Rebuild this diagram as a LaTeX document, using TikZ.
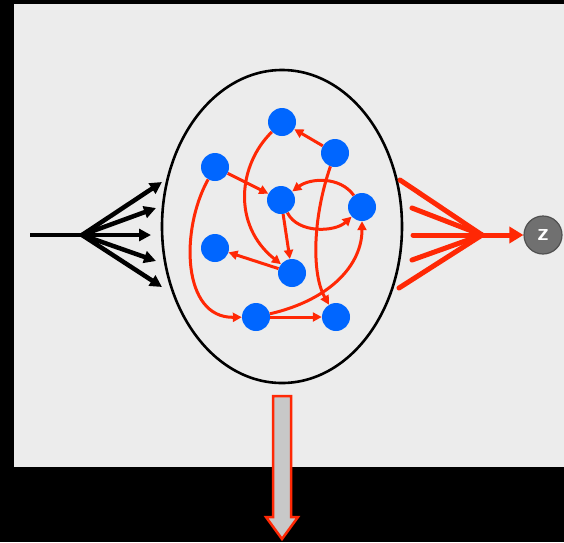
\documentclass[tikz,border=0pt]{standalone}
\usetikzlibrary{arrows.meta}
\definecolor{panel}{RGB}{236,236,236}
\definecolor{netred}{RGB}{255,40,5}
\definecolor{netblue}{RGB}{0,102,255}
\definecolor{zgray}{RGB}{112,112,112}
\definecolor{zedge}{RGB}{80,80,80}
\definecolor{shaftgray}{RGB}{200,200,200}
\tikzset{
  unit/.style={circle, fill=netblue, minimum size=28pt, inner sep=0pt},
  link/.style={draw=netred, line width=3pt, -{Triangle[length=9pt,width=9pt]}},
  fanin/.style={draw=black, line width=4.5pt, -{Triangle[length=12pt,width=12pt]}},
  fanout/.style={draw=netred, line width=5pt},
  zball/.style={circle, fill=zgray, draw=zedge, line width=1.2pt, minimum size=38pt, inner sep=0pt, text=white, font=\sffamily\bfseries\fontsize{24}{24}\selectfont}
}
\begin{document}
\begin{tikzpicture}[x=1pt,y=-1pt]
\useasboundingbox (0,0) rectangle (564,542);
\fill[black] (0,0) rectangle (564,542);
\fill[panel] (14,4) rectangle (570,467);

% container
\draw[line width=2.6pt] (282,226.5) ellipse [x radius=120, y radius=156.5];

% units
\node[unit] (A) at (282,122) {};
\node[unit] (B) at (335,153) {};
\node[unit] (C) at (215,167) {};
\node[unit] (D) at (281,200) {};
\node[unit] (E) at (362,207) {};
\node[unit] (F) at (215,248) {};
\node[unit] (G) at (292,273) {};
\node[unit] (H) at (256,317) {};
\node[unit] (I) at (336,317) {};

% internal links
\draw[link] (B) -- (A);
\draw[link] (C) -- (D);
\draw[link] (E) .. controls (340,176) and (310,178) .. (D);
\draw[link] (D) .. controls (298,234) and (335,232) .. (E);
\draw[link] (D) -- (G);
\draw[link] (G) -- (F);
\draw[link] (A) .. controls (238,165) and (232,225) .. (G);
\draw[link] (C) .. controls (180,230) and (182,318) .. (H);
\draw[link] (B) .. controls (312,220) and (312,275) .. (I);
\draw[link] (H) -- (I);
\draw[link] (H) .. controls (330,300) and (362,265) .. (E);

% input fan
\coordinate (src) at (30,235);
\coordinate (fan) at (82,235);
\coordinate (t1) at (162,182);
\coordinate (t2) at (156,208);
\coordinate (t3) at (151,235);
\coordinate (t4) at (156,261);
\coordinate (t5) at (162,287);
\draw[black, line width=4.5pt] (src) -- (fan);
\foreach \t in {t1,t2,t3,t4,t5} \draw[fanin] (fan) -- (\t);

% output fan
\coordinate (o1) at (400,180);
\coordinate (o2) at (412,208);
\coordinate (o3) at (413,235);
\coordinate (o4) at (412,260);
\coordinate (o5) at (399,288);
\coordinate (conv) at (482,235);
\foreach \o in {o1,o2,o3,o4,o5} \draw[fanout, line cap=round] (\o) -- (conv);
\node[zball] (z) at (543,235) {z};
\draw[draw=netred, line width=5pt, -{Triangle[length=14pt,width=16pt]}] (conv) -- (z);

% bottom block arrow
\coordinate (b1) at (273,396);
\coordinate (b2) at (291,396);
\coordinate (b3) at (291,517);
\coordinate (b4) at (298,517);
\coordinate (b5) at (282,539);
\coordinate (b6) at (266,517);
\coordinate (b7) at (273,517);
\draw[draw=netred, fill=shaftgray, line width=2.5pt, line join=miter] (b1) -- (b2) -- (b3) -- (b4) -- (b5) -- (b6) -- (b7) -- cycle;
\end{tikzpicture}
\end{document}
